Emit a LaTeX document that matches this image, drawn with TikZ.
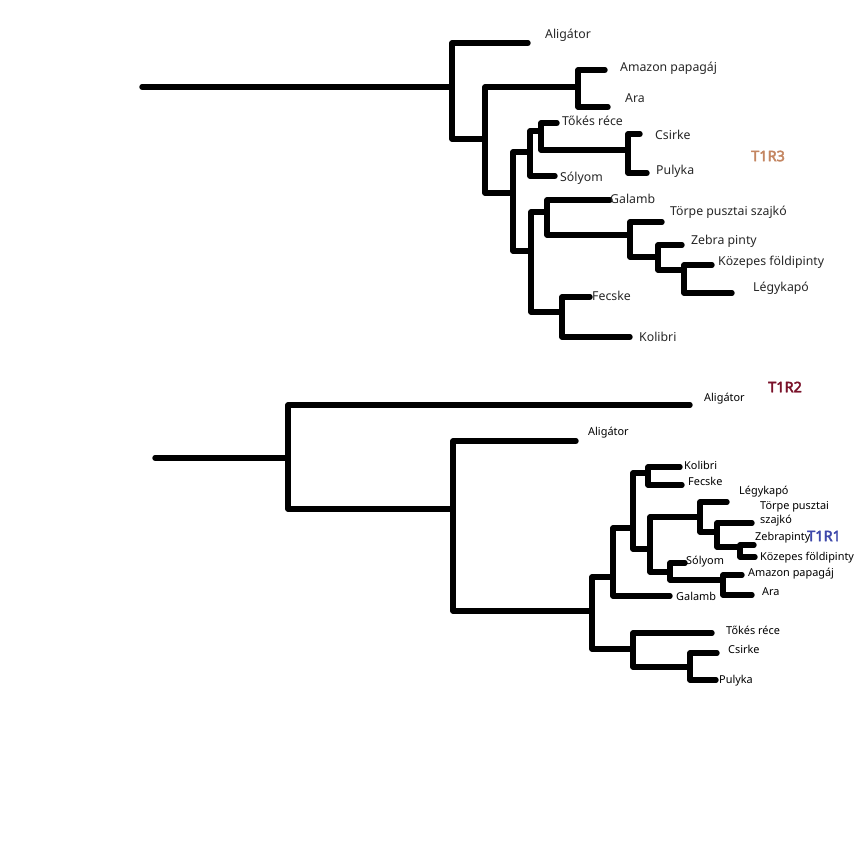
\documentclass[tikz,border=0pt]{standalone}
\usepackage{fontspec}
\setmainfont{Noto Sans}
\newfontfamily\tagfont{Noto Sans}[FakeBold=3]
\begin{document}
\begin{tikzpicture}[x=1pt,y=-1pt,
  branch/.style={line width=5.4pt,line cap=round,line join=round,black},
  labA/.style={anchor=west,inner sep=0pt,font=\fontsize{12.3}{14}\selectfont,text=black!85},
  labB/.style={anchor=west,inner sep=0pt,font=\fontsize{10.9}{13}\selectfont,text=black},
  tag/.style={anchor=west,inner sep=0pt,font=\tagfont\fontsize{14.5}{16}\selectfont}]
\definecolor{tagthree}{RGB}{196,134,98}
\definecolor{tagtwo}{RGB}{122,18,42}
\definecolor{tagone}{RGB}{62,72,170}
\useasboundingbox (0,0) rectangle (864,862);
% ================= top tree (T1R3) =================
\coordinate (a0) at (142,87);
\coordinate (a1) at (452,87);
\coordinate (a2) at (485,139);
\coordinate (a3) at (578,87);
\coordinate (a4) at (513,193);
\coordinate (a5) at (530,152);
\coordinate (a6) at (541,131);
\coordinate (a7) at (628,150);
\coordinate (a8) at (531,251);
\coordinate (a9) at (547,212);
\coordinate (a10) at (630,235);
\coordinate (a11) at (658,257);
\coordinate (a12) at (684,270);
\coordinate (a13) at (562,312);
% tips
\coordinate (tAli) at (528,43);
\coordinate (tAma) at (605,70);
\coordinate (tAra) at (608,107);
\coordinate (tTok) at (557,123);
\coordinate (tCsi) at (640,134);
\coordinate (tPul) at (647,173);
\coordinate (tSol) at (555,176);
\coordinate (tGal) at (610,200);
\coordinate (tTor) at (662,222);
\coordinate (tZeb) at (682,245);
\coordinate (tKoz) at (712,265);
\coordinate (tLeg) at (732,293);
\coordinate (tFec) at (590,297);
\coordinate (tKol) at (630,337);
\draw[branch] (a0) -- (a1);
\draw[branch] (tAli) -| (a1) |- (a2);
\draw[branch] (a3) -| (a2) |- (a4);
\draw[branch] (tAma) -| (a3) |- (tAra);
\draw[branch] (a5) -| (a4) |- (a8);
\draw[branch] (a6) -| (a5) |- (tSol);
\draw[branch] (tTok) -| (a6) |- (a7);
\draw[branch] (tCsi) -| (a7) |- (tPul);
\draw[branch] (a9) -| (a8) |- (a13);
\draw[branch] (tGal) -| (a9) |- (a10);
\draw[branch] (tTor) -| (a10) |- (a11);
\draw[branch] (tZeb) -| (a11) |- (a12);
\draw[branch] (tKoz) -| (a12) |- (tLeg);
\draw[branch] (tFec) -| (a13) |- (tKol);
\node[labA] (lAli) at (545,35) {Aligátor};
\node[labA] (lAma) at (620,68) {Amazon papagáj};
\node[labA] (lAra) at (625,98) {Ara};
\node[labA] (lTok) at (562,121) {Tőkés réce};
\node[labA] (lCsi) at (655,135) {Csirke};
\node[labA] (lPul) at (656,171) {Pulyka};
\node[labA] (lSol) at (560,178) {Sólyom};
\node[labA] (lGal) at (610,199) {Galamb};
\node[labA] (lTor) at (670,212) {Törpe pusztai szajkó};
\node[labA] (lZeb) at (691,241) {Zebra pinty};
\node[labA] (lKoz) at (718,262) {Közepes földipinty};
\node[labA] (lLeg) at (753,288) {Légykapó};
\node[labA] (lFec) at (592,296) {Fecske};
\node[labA] (lKol) at (639,337) {Kolibri};
\node[tag,text=tagthree] (tag3) at (751,156) {T1R3};
% ================= bottom trees (T1R2, T1R1) =================
\coordinate (b0) at (155,458);
\coordinate (b1) at (288,458);
\coordinate (b2) at (453,509);
\coordinate (b3) at (592,611);
\coordinate (b4) at (613,577);
\coordinate (b5) at (633,528);
\coordinate (b6) at (648,473);
\coordinate (b7) at (650,549);
\coordinate (b8) at (700,517);
\coordinate (b9) at (717,532);
\coordinate (b10) at (740,547);
\coordinate (b11) at (670,572);
\coordinate (b12) at (723,580);
\coordinate (b13) at (633,649);
\coordinate (b14) at (690,667);
% tips
\coordinate (sAli) at (690,405);
\coordinate (sAliB) at (576,441);
\coordinate (sKol) at (680,467);
\coordinate (sFec) at (682,485);
\coordinate (sLeg) at (727,502);
\coordinate (sTor) at (752,523);
\coordinate (sZeb) at (754,545);
\coordinate (sKoz) at (755,557);
\coordinate (sSol) at (685,563);
\coordinate (sAma) at (742,575);
\coordinate (sAra) at (752,595);
\coordinate (sGal) at (670,596);
\coordinate (sTok) at (712,633);
\coordinate (sCsi) at (717,653);
\coordinate (sPul) at (716,680);
\draw[branch] (b0) -- (b1);
\draw[branch] (sAli) -| (b1) |- (b2);
\draw[branch] (sAliB) -| (b2) |- (b3);
\draw[branch] (b4) -| (b3) |- (b13);
\draw[branch] (b5) -| (b4) |- (sGal);
\draw[branch] (b6) -| (b5) |- (b7);
\draw[branch] (sKol) -| (b6) |- (sFec);
\draw[branch] (b8) -| (b7) |- (b11);
\draw[branch] (sLeg) -| (b8) |- (b9);
\draw[branch] (sTor) -| (b9) |- (b10);
\draw[branch] (sZeb) -| (b10) |- (sKoz);
\draw[branch] (sSol) -| (b11) |- (b12);
\draw[branch] (sAma) -| (b12) |- (sAra);
\draw[branch] (sTok) -| (b13) |- (b14);
\draw[branch] (sCsi) -| (b14) |- (sPul);
\node[labB] (mAli) at (704,399) {Aligátor};
\node[labB] (mAliB) at (588,433) {Aligátor};
\node[labB] (mKol) at (684,465) {Kolibri};
\node[labB] (mFec) at (688,481) {Fecske};
\node[labB] (mLeg) at (739,492) {Légykapó};
\node[labB] (mTor) at (760,507) {Törpe pusztai};
\node[labB] (mSza) at (760,521) {szajkó};
\node[labB] (mZeb) at (755,538) {Zebrapinty};
\node[labB] (mKoz) at (760,558) {Közepes földipinty};
\node[labB] (mSol) at (686,562) {Sólyom};
\node[labB] (mAma) at (748,574) {Amazon papagáj};
\node[labB] (mAra) at (762,592) {Ara};
\node[labB] (mGal) at (676,596) {Galamb};
\node[labB] (mTok) at (726,630) {Tőkés réce};
\node[labB] (mCsi) at (728,649) {Csirke};
\node[labB] (mPul) at (719,681) {Pulyka};
\node[tag,text=tagtwo] (tag2) at (768,387) {T1R2};
\node[tag,text=tagone] (tag1) at (807,536) {T1R1};
\end{tikzpicture}
\end{document}
